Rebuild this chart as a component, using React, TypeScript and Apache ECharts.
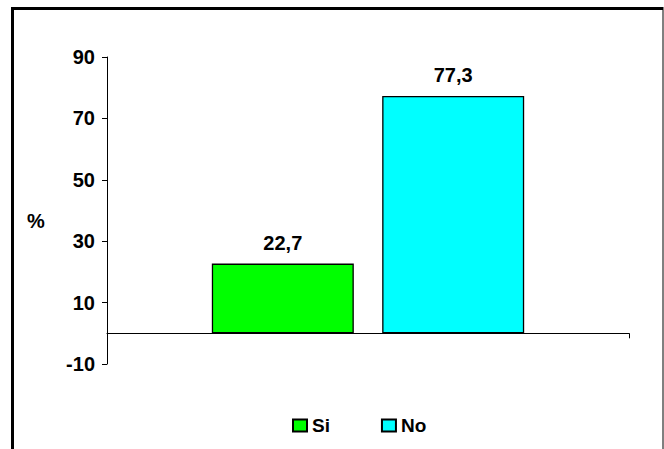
import React, { useEffect, useRef } from "react";
import * as echarts from "echarts";

// Survey answers, in percent
const categories = [""];
const seriesNames = ["Si", "No"];
const siValues = [22.7];
const noValues = [77.3];
const seriesColors = ["#00FF00", "#00FFFF"];
const yTickValues = [-10, 10, 30, 50, 70, 90];

const FONT = '"Liberation Sans", Arial, sans-serif';

export default function App() {
  const ref = useRef<HTMLDivElement>(null);

  useEffect(() => {
    if (!ref.current) return;
    const chart = echarts.init(ref.current, null, { renderer: "svg" });

    const valueLabel = {
      show: true,
      position: "top",
      distance: 11,
      fontFamily: FONT,
      fontWeight: "bold",
      fontSize: 20,
      color: "#000",
      formatter: (p: any) => String(p.value).replace(".", ","),
    };

    chart.setOption({
      animation: false,
      backgroundColor: "#fff",
      textStyle: { fontFamily: FONT },
      grid: { left: 107, right: 35, top: 57, bottom: 85, containLabel: false },
      legend: {
        data: seriesNames,
        left: 287,
        top: 411,
        itemWidth: 14,
        itemHeight: 12,
        itemGap: 51,
        icon: "rect",
        textStyle: {
          fontFamily: FONT,
          fontWeight: "bold",
          fontSize: 19,
          color: "#000",
        },
      },
      xAxis: {
        type: "category",
        data: categories,
        boundaryGap: true,
        axisLine: { onZero: true, lineStyle: { color: "#000", width: 1 } },
        axisTick: { show: true, alignWithLabel: false, length: 5, lineStyle: { color: "#000" } },
        axisLabel: { show: false },
        splitLine: { show: false },
      },
      yAxis: {
        type: "value",
        min: -10,
        max: 90,
        interval: 10,
        axisLine: { show: true, lineStyle: { color: "#000", width: 1 } },
        axisTick: {
          show: true,
          length: 5,
          customValues: yTickValues,
          lineStyle: { color: "#000" },
        },
        axisLabel: {
          customValues: yTickValues,
          margin: 12,
          fontFamily: FONT,
          fontWeight: "bold",
          fontSize: 20,
          color: "#000",
        },
        splitLine: { show: false },
      },
      series: [
        {
          name: seriesNames[0],
          type: "bar",
          data: siValues,
          barWidth: "27.2%",
          barGap: "20%",
          itemStyle: { color: seriesColors[0], borderColor: "#000", borderWidth: 1.3 },
          label: valueLabel,
        },
        {
          name: seriesNames[1],
          type: "bar",
          data: noValues,
          barWidth: "27.2%",
          barGap: "20%",
          itemStyle: { color: seriesColors[1], borderColor: "#000", borderWidth: 1.3 },
          label: valueLabel,
        },
      ],
      graphic: [
        {
          type: "text",
          left: 27,
          top: 211,
          style: {
            text: "%",
            fontFamily: FONT,
            fontWeight: "bold",
            fontSize: 20,
            fill: "#000",
          },
        },
        { type: "rect", shape: { x: 11, y: 7, width: 3, height: 442 }, style: { fill: "#000" } },
        { type: "rect", shape: { x: 11, y: 7, width: 652, height: 3 }, style: { fill: "#000" } },
        {
          type: "line",
          shape: { x1: 663, y1: 7, x2: 663, y2: 449 },
          style: { stroke: "#000", lineWidth: 1 },
        },
      ],
    });

    return () => chart.dispose();
  }, []);

  return (
    <div
      ref={ref}
      style={{ position: "fixed", left: 0, top: 0, width: 664, height: 449 }}
    />
  );
}
